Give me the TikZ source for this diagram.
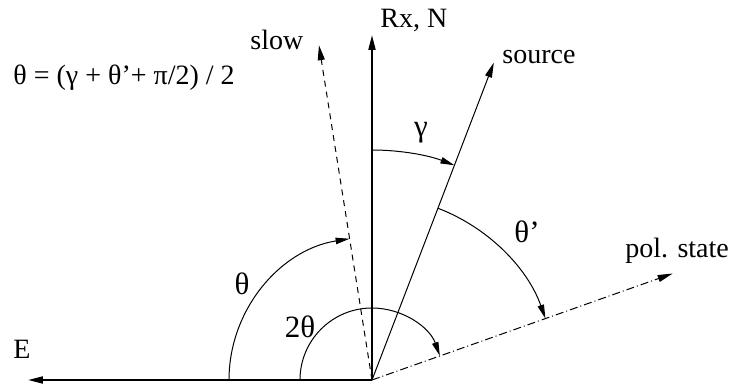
\documentclass[tikz,border=0pt]{standalone}
\usepackage{fontspec}
\setmainfont{Liberation Serif}
\usetikzlibrary{arrows.meta}

\begin{document}
\begin{tikzpicture}[
  x=0.5pt, y=0.5pt,
  axis/.style={-{Triangle[length=7.5pt, width=3.5pt]}, line width=1pt},
  ray/.style={-{Triangle[length=7.5pt, width=3.5pt]}, line width=0.5pt},
  ang/.style={-{Triangle[length=7pt, width=3.2pt]}, line width=0.5pt},
  lbl/.style={font=\fontsize{14}{17}\selectfont, inner sep=0pt},
  glbl/.style={font=\fontsize{15.5}{18}\selectfont, inner sep=0pt}
]
\useasboundingbox (-372,-6) rectangle (358,380);
% origin and ray ends
\coordinate (O) at (0,0);
\coordinate (east) at (-344,0);
\coordinate (north) at (0,345);
\coordinate (src) at (69:340);
\coordinate (slw) at (99:339);
\coordinate (pol) at (19.5:319);
% axes and rays
\draw[axis] (O) -- (east);
\draw[axis] (O) -- (north);
\draw[ray] (O) -- (src);
\draw[ray, dash pattern=on 3pt off 2.5pt] (O) -- (slw);
\draw[ray, dash pattern=on 4pt off 1.5pt on 0.5pt off 1.5pt] (O) -- (pol);
% angle arcs
\coordinate (gam) at (90:230);
\coordinate (thp) at (69:184);
\coordinate (th) at (180:143);
\coordinate (tth) at (180:72);
\draw[ang] (gam) arc[start angle=90, end angle=69, radius=230];
\draw[ang] (thp) arc[start angle=69, end angle=19.5, radius=184];
\draw[ang] (th) arc[start angle=180, end angle=99, radius=143];
\draw[ang] (tth) arc[start angle=180, end angle=19.5, radius=72];
% labels
\node[lbl, anchor=base west] (rxl) at (8,352) {Rx, N};
\node[lbl, anchor=base west] (srcl) at (130,316) {source};
\node[lbl, anchor=base west] (slwl) at (-122,330) {slow};
\node[lbl, anchor=base west] (poll) at (253,122) {pol. state};
\node[lbl, anchor=base west] (eastl) at (-359,21) {E};
\node[lbl, anchor=base west] (eq) at (-359,295) {θ = (γ + θ’+ π/2) / 2};
\node[glbl] (gaml) at (49,247) {γ};
\node[glbl, anchor=base] (thpl) at (155,137) {θ’};
\node[glbl, anchor=base] (thl) at (-130,85) {θ};
\node[glbl, anchor=base] (tthl) at (-72,42) {2θ};
\end{tikzpicture}
\end{document}
